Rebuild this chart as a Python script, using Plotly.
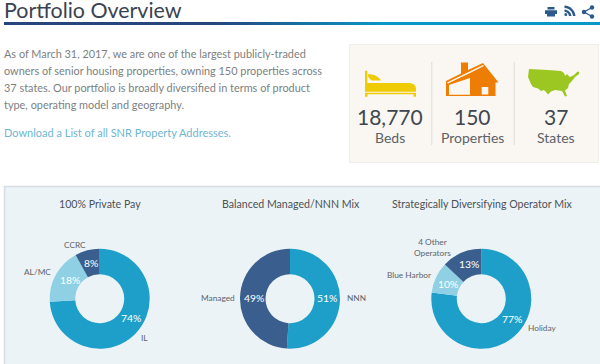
import plotly.graph_objects as go

FONT = "Lato"
TITLE = "Portfolio Overview"
BODY_LINES = [
    "As of March 31, 2017, we are one of the largest publicly-traded",
    "owners of senior housing properties, owning 150 properties across",
    "37 states. Our portfolio is broadly diversified in terms of product",
    "type, operating model and geography.",
]
LINK = "Download a List of all SNR Property Addresses."
STAT_VALUES = ["18,770", "150", "37"]
STAT_LABELS = ["Beds", "Properties", "States"]

CHART_TITLES = ["100% Private Pay", "Balanced Managed/NNN Mix", "Strategically Diversifying Operator Mix"]
PAY_LABELS = ["IL", "AL/MC", "CCRC"]
PAY_VALUES = [74, 18, 8]
MIX_LABELS = ["NNN", "Managed"]
MIX_VALUES = [51, 49]
OPERATOR_LABELS = ["Holiday", "Blue Harbor", "4 Other<br>Operators"]
OPERATOR_VALUES = [77, 10, 13]

W, H = 600, 364
TEAL, LIGHT, NAVY = "#1e9fc9", "#8fd0e4", "#3a5f8e"
BOX = "#faf7f2"

fig = go.Figure()


def dx(a, b):
    return [a / W, b / W]


def dy(top, bottom):
    return [1 - bottom / H, 1 - top / H]


def add_pie(labels, values, cx, cy, colors):
    fig.add_trace(go.Pie(
        labels=labels, values=values, sort=False, direction="clockwise", rotation=0,
        hole=0.49, textinfo="none",
        marker=dict(colors=colors, line=dict(width=0)),
        domain=dict(x=dx(cx - 50, cx + 50), y=dy(cy - 50, cy + 50)),
        showlegend=False, hoverinfo="label+percent",
    ))


add_pie(PAY_LABELS, PAY_VALUES, 99.7, 298.7, [TEAL, LIGHT, NAVY])
add_pie(MIX_LABELS, MIX_VALUES, 290, 298.7, [TEAL, NAVY])
add_pie(OPERATOR_LABELS, OPERATOR_VALUES, 481.3, 298.7, [TEAL, LIGHT, NAVY])

shapes = []


def rect(x0, y0, x1, y1, fill, line=None, width=1):
    shapes.append(dict(type="rect", xref="x", yref="y", x0=x0, y0=y0, x1=x1, y1=y1,
                       fillcolor=fill, line=dict(color=line or fill, width=width if line else 0), layer="below"))


def path(d, fill):
    shapes.append(dict(type="path", xref="x", yref="y", path=d, fillcolor=fill,
                       line=dict(width=0), layer="below"))


def lerp(a, b, t):
    return round(a + (b - a) * t)


# Header rule with a navy-to-teal gradient
for i in range(0, 600, 10):
    t = min(1, max(0, (i - 210) / 170))
    rect(max(i, 4), 22, min(i + 10, 600), 25,
         "rgb(%d,%d,%d)" % (lerp(0x25, 0x0b, t), lerp(0x45, 0x98, t), lerp(0x7c, 0xc6, t)))

# Stats box and chart panel
rect(349.5, 44.5, 598.5, 162.5, BOX, "#f0eeea")
rect(4.5, 186.5, 601, 366, "#ebf3f6", "#d8dde3", 1.5)
rect(431.3, 62, 432.3, 145, "#dcdcd8")
rect(513.7, 62, 514.7, 145, "#dcdcd8")

# Bed
YEL = "#eecb05"
path("M365,70.7 L367.3,70.7 L367.3,83 L408,83 C414,83 416,85.5 416,89 L416,91.7 L365,91.7 Z", YEL)
path("M365,92.8 L416,92.8 L416,96.7 L413.5,96.7 L413.5,94.2 L367.5,94.2 L367.5,96.7 L365,96.7 Z", YEL)
path("M367.7,74.3 C373,74 378,76 381,80.5 L372,80.5 C369.5,79.5 368,77 367.7,74.3 Z", YEL)

# House
ORG = "#ee7d03"
path("M446,81 L461,73.5 L461,62.5 L468,62.5 L468,70 L483,63 L498.5,82.5 L495.5,82.5 L495.5,96 L446,96 Z", ORG)
path("M447,82.5 L483,65 L484,66 L470,73 L448,83.5 Z", BOX)
path("M449,85 L470,78 L470,94.7 L449,94.7 Z", BOX)
path("M481.7,87 L488.3,87 L488.3,94.5 L481.7,94.5 Z", BOX)

# US map
GRN = "#9cc622"
path("M529,69 L548,70 L561,71 L564,73 L565,76 L567,74 L570,77 L574,75 L577,72 L579,71.5 L579,74 L575,77 L572,81 L569,84 L568,88 L565,90.5 L567,96 L565,96.5 L562,91 L555,90 L551,91.5 L548,94.5 L546,92 L544,90 L541,91 L538,88.5 L533,87 L531,84 L528,77 Z", GRN)

# Toolbar icons
ICON = "#2c5a8c"
path("M547.5,7 L554.5,7 L554.5,9.5 L547.5,9.5 Z M545,10.3 L557,10.3 L557,14 L555,14 L555,16.5 L547,16.5 L547,14 L545,14 Z", ICON)
path("M564.5,5.5 C571,6 575,10.5 575.5,16 L573,16 C572.5,11.5 569.5,8.5 564.5,8 Z M564.5,9.5 C568.5,10 571,12.5 571.5,16 L569,16 C568.5,13.5 567,12 564.5,11.7 Z", ICON)
shapes.append(dict(type="circle", xref="x", yref="y", x0=564.3, y0=13, x1=567.3, y1=16,
                   fillcolor=ICON, line=dict(width=0), layer="below"))
for cx, cy in [(584, 12), (592, 7.5), (592, 16.5)]:
    shapes.append(dict(type="circle", xref="x", yref="y", x0=cx - 2.2, y0=cy - 2.2, x1=cx + 2.2, y1=cy + 2.2,
                       fillcolor=ICON, line=dict(width=0), layer="below"))
shapes.append(dict(type="path", xref="x", yref="y", path="M592,7.5 L584,12 L592,16.5",
                   line=dict(color=ICON, width=1.3), layer="below"))

ann = []


def text(x, y, s, size, color, anchor="left"):
    ann.append(dict(x=x, y=y, xref="x", yref="y", text=s, showarrow=False, xanchor=anchor, yanchor="middle",
                    font=dict(family=FONT, size=size, color=color), align="center" if anchor == "center" else anchor))


text(2, 10, TITLE, 21.4, "#3a4350")
for y, line in zip([53, 70, 87, 104], BODY_LINES):
    text(2, y, line, 10.9, "#7c7f82")
text(2, 132.5, LINK, 11, "#6fb6d0")

for x, val, lab in zip([390.2, 472.7, 555.5], STAT_VALUES, STAT_LABELS):
    text(x, 116, val, 21, "#3f4650", "center")
    text(x, 137, lab, 14, "#5c6268", "center")

for x, t in zip([99.5, 290.5, 481.5], CHART_TITLES):
    text(x, 204, t, 10.6, "#4c5156", "center")


def pct(values, positions):
    for v, (x, y) in zip(values, positions):
        text(x, y, "%d%%" % v, 10.4, "white", "center")


pct(PAY_VALUES, [(131, 317.5), (69.5, 279.5), (90.5, 263)])
pct(MIX_VALUES, [(327, 298), (254.3, 298)])
pct(OPERATOR_VALUES, [(512.3, 319.3), (448, 284.3), (469.3, 264.3)])

GREY = "#5f6468"
text(75, 245, PAY_LABELS[2], 8.3, GREY, "center")
text(37.5, 272, PAY_LABELS[1], 8.3, GREY, "center")
text(144, 338, PAY_LABELS[0], 8.3, GREY, "center")
text(218, 298, MIX_LABELS[1], 8.3, GREY, "center")
text(356, 298, MIX_LABELS[0], 8.3, GREY, "center")
text(432, 247.5, OPERATOR_LABELS[2], 8.3, GREY, "center")
text(409, 275, OPERATOR_LABELS[1], 8.3, GREY, "center")
text(542, 328, OPERATOR_LABELS[0], 8.3, GREY, "center")

fig.update_layout(
    width=W, height=H, autosize=False,
    margin=dict(l=0, r=0, t=0, b=0),
    paper_bgcolor="white", plot_bgcolor="rgba(0,0,0,0)",
    xaxis=dict(range=[0, W], visible=False, fixedrange=True),
    yaxis=dict(range=[H, 0], visible=False, fixedrange=True),
    shapes=shapes, annotations=ann,
)
fig.write_html("out.html", config=dict(displayModeBar=False),
               post_script="document.body.style.margin='0';document.body.style.overflow='hidden';")
